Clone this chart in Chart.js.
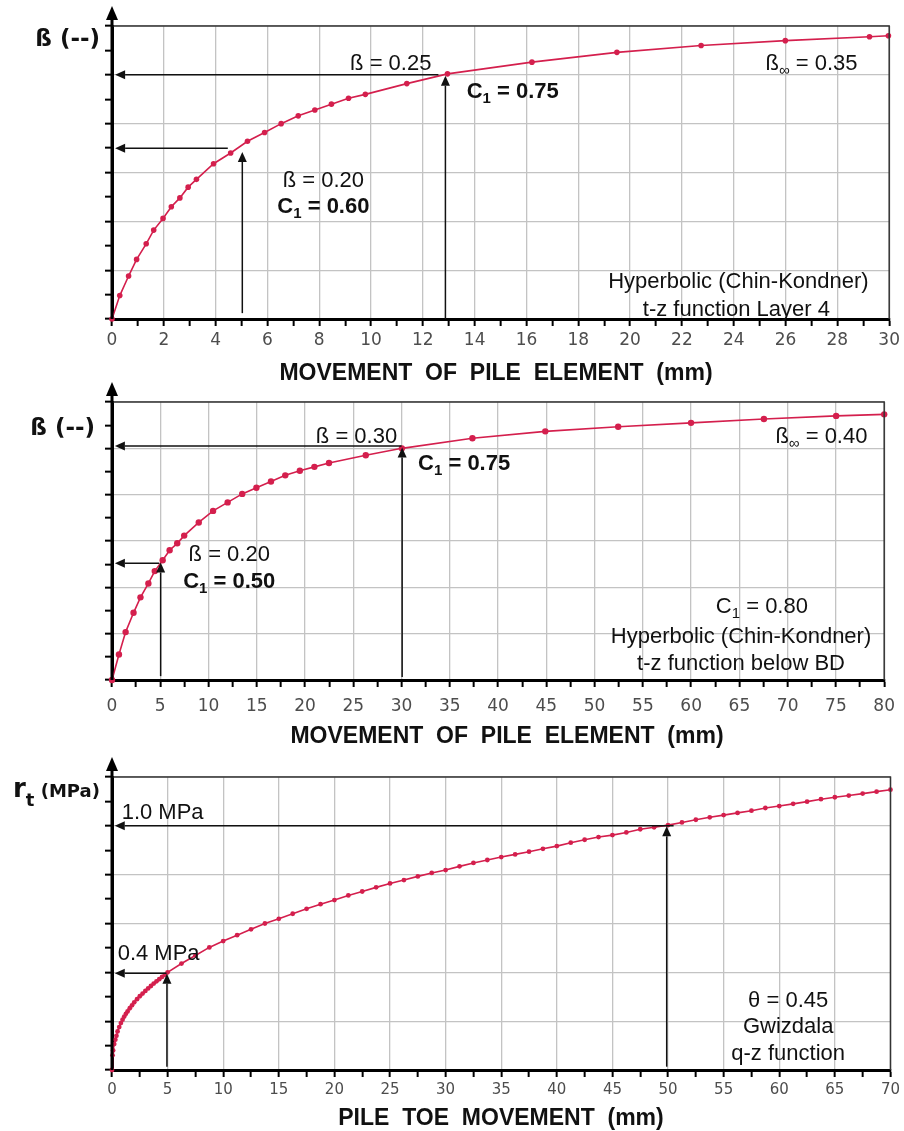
<!DOCTYPE html>
<html>
<head>
<meta charset="utf-8">
<script src="https://cdn.jsdelivr.net/npm/chart.js@4.4.0/dist/chart.umd.min.js"></script>
<style>
  body { margin: 0; background: #fff; width: 904px; height: 1131px; position: relative; overflow: hidden; }
  canvas { position: absolute; left: 0; }
</style>
</head>
<body>
<canvas id="c1" width="904" height="390" style="top:0px"></canvas>
<canvas id="c2" width="904" height="380" style="top:372px"></canvas>
<canvas id="c3" width="904" height="383" style="top:748px"></canvas>
<script>
// chart 1 - t-z layer 4 (movement mm / beta)
const layer4X = [0, 0.30, 0.64, 0.95, 1.32, 1.61, 1.97, 2.29, 2.62, 2.94, 3.26, 3.92, 4.58, 5.23, 5.89, 6.53, 7.19, 7.83, 8.47, 9.13, 9.78, 11.38, 12.95, 16.21, 19.49, 22.74, 25.99, 29.24, 29.97];
const layer4Beta = [0, 0.024, 0.044, 0.061, 0.077, 0.091, 0.103, 0.115, 0.124, 0.135, 0.143, 0.159, 0.170, 0.182, 0.191, 0.200, 0.208, 0.214, 0.220, 0.226, 0.230, 0.241, 0.251, 0.263, 0.273, 0.280, 0.285, 0.289, 0.290];

// chart 2 - t-z below BD
const belowBdX = [0, 0.72, 1.41, 2.23, 2.95, 3.77, 4.43, 5.25, 5.97, 6.76, 7.48, 8.99, 10.47, 11.98, 13.49, 14.96, 16.47, 17.95, 19.46, 20.97, 22.48, 26.29, 30.03, 37.34, 44.89, 52.44, 59.99, 67.54, 75.02, 80];
const belowBdBeta = [0, 0.033, 0.062, 0.087, 0.107, 0.125, 0.141, 0.155, 0.168, 0.177, 0.187, 0.204, 0.219, 0.230, 0.241, 0.249, 0.257, 0.265, 0.271, 0.276, 0.281, 0.291, 0.300, 0.313, 0.322, 0.328, 0.333, 0.338, 0.342, 0.344];

// chart 3 - q-z pile toe (mm / MPa)
const toeX = [0, 0.05, 0.1, 0.2, 0.3, 0.4, 0.5, 0.65, 0.8, 0.95, 1.1, 1.25, 1.4, 1.6, 1.8, 2.0, 2.25, 2.5, 2.75, 3.0, 3.25, 3.5, 3.75, 4.0, 4.25, 4.5, 4.75,
  5, 6.25, 7.5, 8.75, 10, 11.25, 12.5, 13.75, 15, 16.25, 17.5, 18.75, 20, 21.25, 22.5, 23.75, 25, 26.25, 27.5, 28.75, 30, 31.25, 32.5, 33.75, 35, 36.25, 37.5, 38.75,
  40, 41.25, 42.5, 43.75, 45, 46.25, 47.5, 48.75, 50, 51.25, 52.5, 53.75, 55, 56.25, 57.5, 58.75, 60, 61.25, 62.5, 63.75, 65, 66.25, 67.5, 68.75, 70];
const toeR = [0, 0.06, 0.08, 0.106, 0.124, 0.14, 0.158, 0.176, 0.192, 0.206, 0.219, 0.23, 0.24, 0.253, 0.265, 0.277, 0.29, 0.302, 0.313, 0.324, 0.334, 0.344, 0.354, 0.363, 0.372, 0.381, 0.39,
  0.400, 0.436, 0.469, 0.502, 0.528, 0.552, 0.576, 0.600, 0.619, 0.640, 0.660, 0.679, 0.696, 0.715, 0.731, 0.748, 0.764, 0.778, 0.793, 0.807, 0.819, 0.834, 0.848, 0.860, 0.872, 0.883, 0.894, 0.906,
  0.917, 0.931, 0.943, 0.954, 0.962, 0.973, 0.986, 0.994, 1.003, 1.014, 1.025, 1.035, 1.044, 1.053, 1.062, 1.073, 1.081, 1.090, 1.099, 1.109, 1.117, 1.124, 1.132, 1.140, 1.148];

// reading arrows [x0, y0, x1, y1], head at the second point
const layer4Arrows = [[12.6, 0.25, 0.12, 0.25], [12.87, 0, 12.87, 0.249], [4.47, 0.1748, 0.12, 0.1748], [5.03, 0.006, 5.03, 0.171]];
const belowBdArrows = [[30, 0.303, 0.3, 0.303], [30.06, 0.004, 30.06, 0.301], [4.9, 0.1513, 0.3, 0.1513], [5.04, 0.005, 5.04, 0.152]];
const toeArrows = [[50.5, 1.0, 0.25, 1.0], [49.88, 0.0135, 49.88, 0.998], [4.9, 0.396, 0.25, 0.396], [4.94, 0.0135, 4.94, 0.394]];

const RED = '#d41f4d';
const GRID = '#c3c3c3';
const INK = '#111';
const REG = '22px "Liberation Sans", Arial, sans-serif';
const BOLD = 'bold 22px "Liberation Sans", Arial, sans-serif';
const SUB = '15px "Liberation Sans", Arial, sans-serif';
const BSUB = 'bold 15px "Liberation Sans", Arial, sans-serif';
const TITLE = 'bold 23px "Liberation Sans", Arial, sans-serif';
const YT = 'bold 23px "DejaVu Sans", sans-serif';

const T = (t, f, dy) => ({ t, f, dy: dy || 0 });

const DECOR = {
  c1: {
    arrows: layer4Arrows,
    labels: [
      { x: 10.76, y: 0.255, align: 'center', segs: [T('ß = 0.25', REG)] },
      { x: 13.69, y: 0.2263, align: 'left', segs: [T('C', BOLD), T('1', BSUB, 5), T(' = 0.75', BOLD)] },
      { x: 27.0, y: 0.255, align: 'center', segs: [T('ß', REG), T('∞', SUB, 5), T(' = 0.35', REG)] },
      { x: 8.16, y: 0.135, align: 'center', segs: [T('ß = 0.20', REG)] },
      { x: 8.16, y: 0.1085, align: 'center', segs: [T('C', BOLD), T('1', BSUB, 5), T(' = 0.60', BOLD)] },
      { x: 24.18, y: 0.0317, align: 'center', segs: [T('Hyperbolic (Chin-Kondner)', REG)] },
      { x: 24.1, y: 0.003, align: 'center', segs: [T('t-z function Layer 4', REG)] }
    ],
    xTitle: { x: 496, y: 380, segs: [T('MOVEMENT  OF  PILE  ELEMENT  (mm)', TITLE)] },
    yTitle: { x: 100, y: 46, align: 'right', segs: [T('ß (--)', YT)] }
  },
  c2: {
    arrows: belowBdArrows,
    labels: [
      { x: 25.33, y: 0.307, align: 'center', segs: [T('ß = 0.30', REG)] },
      { x: 31.71, y: 0.272, align: 'left', segs: [T('C', BOLD), T('1', BSUB, 5), T(' = 0.75', BOLD)] },
      { x: 73.5, y: 0.307, align: 'center', segs: [T('ß', REG), T('∞', SUB, 5), T(' = 0.40', REG)] },
      { x: 12.15, y: 0.154, align: 'center', segs: [T('ß = 0.20', REG)] },
      { x: 12.15, y: 0.119, align: 'center', segs: [T('C', BOLD), T('1', BSUB, 5), T(' = 0.50', BOLD)] },
      { x: 67.33, y: 0.0869, align: 'center', segs: [T('C', REG), T('1', SUB, 5), T(' = 0.80', REG)] },
      { x: 65.17, y: 0.048, align: 'center', segs: [T('Hyperbolic (Chin-Kondner)', REG)] },
      { x: 65.17, y: 0.013, align: 'center', segs: [T('t-z function below BD', REG)] }
    ],
    xTitle: { x: 507, y: 371, segs: [T('MOVEMENT  OF  PILE  ELEMENT  (mm)', TITLE)] },
    yTitle: { x: 95, y: 63, align: 'right', segs: [T('ß (--)', YT)] }
  },
  c3: {
    arrows: toeArrows,
    labels: [
      { x: 0.87, y: 1.029, align: 'left', segs: [T('1.0 MPa', REG)] },
      { x: 0.51, y: 0.451, align: 'left', segs: [T('0.4 MPa', REG)] },
      { x: 60.8, y: 0.258, align: 'center', segs: [T('θ = 0.45', REG)] },
      { x: 60.8, y: 0.152, align: 'center', segs: [T('Gwizdala', REG)] },
      { x: 60.8, y: 0.041, align: 'center', segs: [T('q-z function', REG)] }
    ],
    xTitle: { x: 501, y: 377, segs: [T('PILE  TOE  MOVEMENT  (mm)', TITLE)] },
    yTitle: { x: 13, y: 49, align: 'left', segs: [T('r', 'bold 26px "DejaVu Sans", sans-serif'), T('t', 'bold 18px "DejaVu Sans", sans-serif', 9), T(' (MPa)', 'bold 18px "DejaVu Sans", sans-serif')] }
  }
};

function drawRich(ctx, segs, x, y, align) {
  let w = 0;
  segs.forEach(s => { ctx.font = s.f; w += ctx.measureText(s.t).width; });
  let cx = align === 'center' ? x - w / 2 : align === 'right' ? x - w : x;
  ctx.textAlign = 'left';
  ctx.textBaseline = 'alphabetic';
  segs.forEach(s => {
    ctx.font = s.f;
    ctx.fillText(s.t, cx, y + s.dy);
    cx += ctx.measureText(s.t).width;
  });
}

function drawArrow(ctx, x0, y0, x1, y1) {
  const ang = Math.atan2(y1 - y0, x1 - x0);
  const len = 10, hw = 4.5;
  const bx = x1 - len * Math.cos(ang), by = y1 - len * Math.sin(ang);
  ctx.beginPath(); ctx.moveTo(x0, y0); ctx.lineTo(bx, by); ctx.stroke();
  ctx.beginPath();
  ctx.moveTo(x1, y1);
  ctx.lineTo(bx - hw * Math.sin(ang), by + hw * Math.cos(ang));
  ctx.lineTo(bx + hw * Math.sin(ang), by - hw * Math.cos(ang));
  ctx.closePath(); ctx.fill();
}

const decor = {
  id: 'decor',
  afterDraw(chart) {
    const d = DECOR[chart.canvas.id];
    const { ctx, chartArea: a } = chart;
    const xs = chart.scales.x, ys = chart.scales.y;
    ctx.save();
    // top and right frame
    ctx.strokeStyle = '#333'; ctx.lineWidth = 1.5;
    ctx.beginPath(); ctx.moveTo(a.left, a.top); ctx.lineTo(a.right, a.top); ctx.lineTo(a.right, a.bottom); ctx.stroke();
    // y axis going up to an arrow
    ctx.strokeStyle = '#000'; ctx.fillStyle = '#000'; ctx.lineWidth = 3;
    ctx.beginPath(); ctx.moveTo(a.left, a.bottom); ctx.lineTo(a.left, a.top - 8); ctx.stroke();
    ctx.beginPath(); ctx.moveTo(a.left, a.top - 20); ctx.lineTo(a.left - 6, a.top - 6); ctx.lineTo(a.left + 6, a.top - 6); ctx.closePath(); ctx.fill();
    // reading arrows
    ctx.lineWidth = 1.5; ctx.strokeStyle = '#111'; ctx.fillStyle = '#111';
    d.arrows.forEach(([x0, y0, x1, y1]) => {
      drawArrow(ctx, xs.getPixelForValue(x0), ys.getPixelForValue(y0), xs.getPixelForValue(x1), ys.getPixelForValue(y1));
    });
    ctx.fillStyle = INK;
    d.labels.forEach(l => drawRich(ctx, l.segs, xs.getPixelForValue(l.x), ys.getPixelForValue(l.y), l.align));
    drawRich(ctx, d.xTitle.segs, d.xTitle.x, d.xTitle.y, 'center');
    drawRich(ctx, d.yTitle.segs, d.yTitle.x, d.yTitle.y, d.yTitle.align);
    ctx.restore();
  }
};

function makeChart(id, o) {
  const canvas = document.getElementById(id);
  return new Chart(canvas, {
    type: 'scatter',
    data: {
      datasets: [{
        data: o.xs.map((v, i) => ({ x: v, y: o.ys[i] })),
        showLine: true,
        borderColor: RED,
        backgroundColor: RED,
        borderWidth: 1.6,
        pointRadius: o.r,
        pointHoverRadius: o.r,
        pointBorderWidth: 0,
        tension: 0,
        clip: 6
      }]
    },
    options: {
      responsive: false,
      animation: false,
      events: [],
      layout: { padding: { left: 0, top: o.top, right: o.right, bottom: 0 } },
      plugins: { legend: { display: false }, tooltip: { enabled: false } },
      scales: {
        x: {
          type: 'linear', min: 0, max: o.xMax,
          afterFit: s => { s.height = o.xh; },
          ticks: {
            stepSize: o.xStep, autoSkip: false, maxRotation: 0, padding: o.tp,
            color: '#4d4d4d', font: { family: 'DejaVu Sans', size: o.fs },
            callback: v => (Math.abs(v % o.xMajor) < 1e-6 ? v : '')
          },
          grid: {
            color: c => (c.tick && Math.abs(c.tick.value % o.xMajor) < 1e-6) ? GRID : 'rgba(0,0,0,0)',
            lineWidth: 1.3, tickColor: '#000', tickLength: 7, tickWidth: 2
          },
          border: { color: '#000', width: 3 }
        },
        y: {
          type: 'linear', min: 0, max: o.yMax,
          afterFit: s => { s.width = 112; },
          ticks: { stepSize: o.yStep, display: false },
          grid: {
            color: c => (c.index % 2 === 0 ? GRID : 'rgba(0,0,0,0)'),
            lineWidth: 1.3, tickColor: '#000', tickLength: 7, tickWidth: 2
          },
          border: { color: '#000', width: 3 }
        }
      }
    },
    plugins: [decor]
  });
}

makeChart('c1', { xs: layer4X, ys: layer4Beta, r: 2.8, top: 26, right: 14, xh: 71, xMax: 30, xStep: 1, xMajor: 2, yMax: 0.30, yStep: 0.025, tp: 4, fs: 17 });
makeChart('c2', { xs: belowBdX, ys: belowBdBeta, r: 3.2, top: 30, right: 15, xh: 72, xMax: 80, xStep: 2.5, xMajor: 5, yMax: 0.36, yStep: 0.03, tp: 9, fs: 17 });
makeChart('c3', { xs: toeX, ys: toeR, r: 2.4, top: 29, right: 11, xh: 61, xMax: 70, xStep: 2.5, xMajor: 5, yMax: 1.2, yStep: 0.1, tp: 4, fs: 15 });
</script>
</body>
</html>
